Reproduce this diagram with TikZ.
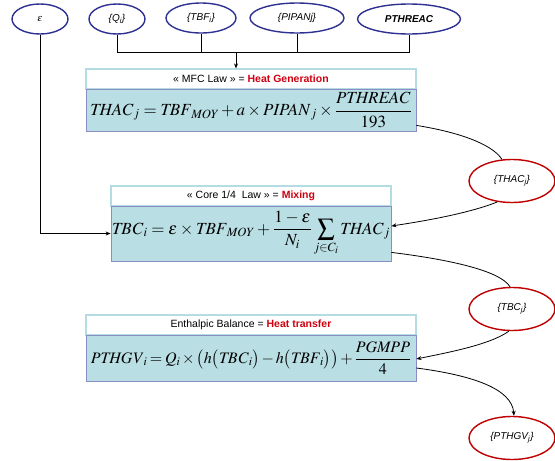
\documentclass[tikz,border=0pt]{standalone}
\usepackage{mathptmx}
\usepackage[no-math]{fontspec}
\setmainfont{Liberation Serif}
\setsansfont{Liberation Sans}
\usetikzlibrary{arrows.meta,shapes.geometric}
\definecolor{ellblue}{HTML}{2E3192}
\definecolor{ellred}{HTML}{C00000}
\definecolor{boxfill}{HTML}{B9DFE4}
\definecolor{boxedge}{HTML}{8A8CC4}
\definecolor{titleedge}{HTML}{B4DDE3}
\definecolor{redtxt}{HTML}{D00010}
\newcommand{\mi}[1]{\mathit{#1}}
\begin{document}
\begin{tikzpicture}[x=1pt,y=-1pt,
  inell/.style={ellipse,draw=ellblue,line width=1.4pt,fill=white,minimum height=30pt,inner sep=1pt,font=\sffamily\itshape\fontsize{10}{12}\selectfont},
  outell/.style={ellipse,draw=ellred,line width=1.4pt,fill=white,minimum width=86pt,minimum height=43pt,inner sep=1pt,font=\sffamily\itshape\fontsize{10}{12}\selectfont},
  titlebox/.style={rectangle,draw=titleedge,line width=1.2pt,fill=white,minimum height=20pt,inner sep=0pt,font=\sffamily\fontsize{10.5}{12}\selectfont},
  formbox/.style={rectangle,draw=boxedge,line width=0.8pt,fill=boxfill,inner sep=0pt,font=\fontsize{17}{20}\selectfont},
  conn/.style={line width=0.8pt,black},
  arr/.style={conn,-{Stealth[length=5pt,width=4pt]}}
]
\useasboundingbox (0,0) rectangle (555,461);
% input ellipses
\node[inell,minimum width=56pt] (eps) at (40,19) {$\varepsilon$};
\node[inell,minimum width=56pt] (Q) at (117,19) {\{Q\textsubscript{i}\}};
\node[inell,minimum width=70pt] (TBF) at (201,18) {\{TBF\textsubscript{i}\}};
\node[inell,minimum width=94pt] (PIP) at (297,18) {\{PIPANj\}};
\node[inell,minimum width=103pt,font=\sffamily\itshape\bfseries\fontsize{10}{12}\selectfont] (PTH) at (409,19) {PTHREAC};
% output ellipses
\node[outell] (THAC) at (512,181) {\{THAC\textsubscript{j}\}};
\node[outell] (TBC) at (512,309) {\{TBC\textsubscript{j}\}};
\node[outell] (PTHGV) at (512,438) {\{PTHGV\textsubscript{j}\}};
% box 1
\node[titlebox,minimum width=330pt] (t1) at (251,79) {« MFC Law » = \textcolor{redtxt}{\bfseries Heat Generation}};
\node[formbox,minimum width=330pt,minimum height=42pt] (f1) at (251,110)
  {$\displaystyle \mi{THAC}_j = \mi{TBF}_{\mi{MOY}} + a\times \mi{PIPAN}_j\times\frac{\mi{PTHREAC}}{193}$};
% box 2
\node[titlebox,minimum width=280pt] (t2) at (251,196) {« Core 1/4\ \ Law » = \textcolor{redtxt}{\bfseries Mixing}};
\node[formbox,minimum width=280pt,minimum height=55pt] (f2) at (251,233.5)
  {\medmuskip=3mu\thickmuskip=4mu$\displaystyle \mi{TBC}_i = \varepsilon\times \mi{TBF}_{\mi{MOY}} + \frac{1-\varepsilon}{N_i}\sum_{j\in C_i} \mi{THAC}_j$};
% box 3
\node[titlebox,minimum width=330pt] (t3) at (251,325) {Enthalpic Balance = \textcolor{redtxt}{\bfseries Heat transfer}};
\node[formbox,minimum width=330pt,minimum height=46pt,font=\fontsize{16}{19}\selectfont] (f3) at (251,358)
  {\medmuskip=2mu\thickmuskip=3mu$\displaystyle \mi{PTHGV}_i = Q_i\times\bigl(h\bigl(\mi{TBC}_i\bigr)-h\bigl(\mi{TBF}_i\bigr)\bigr)+\frac{\mi{PGMPP}}{4}$};
% bus
\coordinate (bus) at (236,52);
\draw[conn] (Q.south) -- (Q.south |- bus) -- (PTH.south |- bus) -- (PTH.south);
\draw[conn] (TBF.south) -- (TBF.south |- bus);
\draw[conn] (PIP.south) -- (PIP.south |- bus);
\draw[arr] (bus) -- (bus |- t1.north);
\draw[arr] (eps.south) |- (f2.west);
% curves
\draw[conn] ([yshift=6pt]f1.south east) .. controls (470,134) and (495,148) .. (THAC.115);
\draw[arr] (THAC.235) .. controls (470,213) and (425,221) .. ([yshift=7.5pt]f2.east);
\draw[conn] ([yshift=9pt]f2.south east) .. controls (445,259) and (500,270) .. (TBC.95);
\draw[arr] (TBC.262) .. controls (490,345) and (445,353) .. ([yshift=-1pt]f3.east);
\draw[arr] ([yshift=-10pt]f3.east) .. controls (470,375) and (512,388) .. (PTHGV.85);
\end{tikzpicture}
\end{document}
